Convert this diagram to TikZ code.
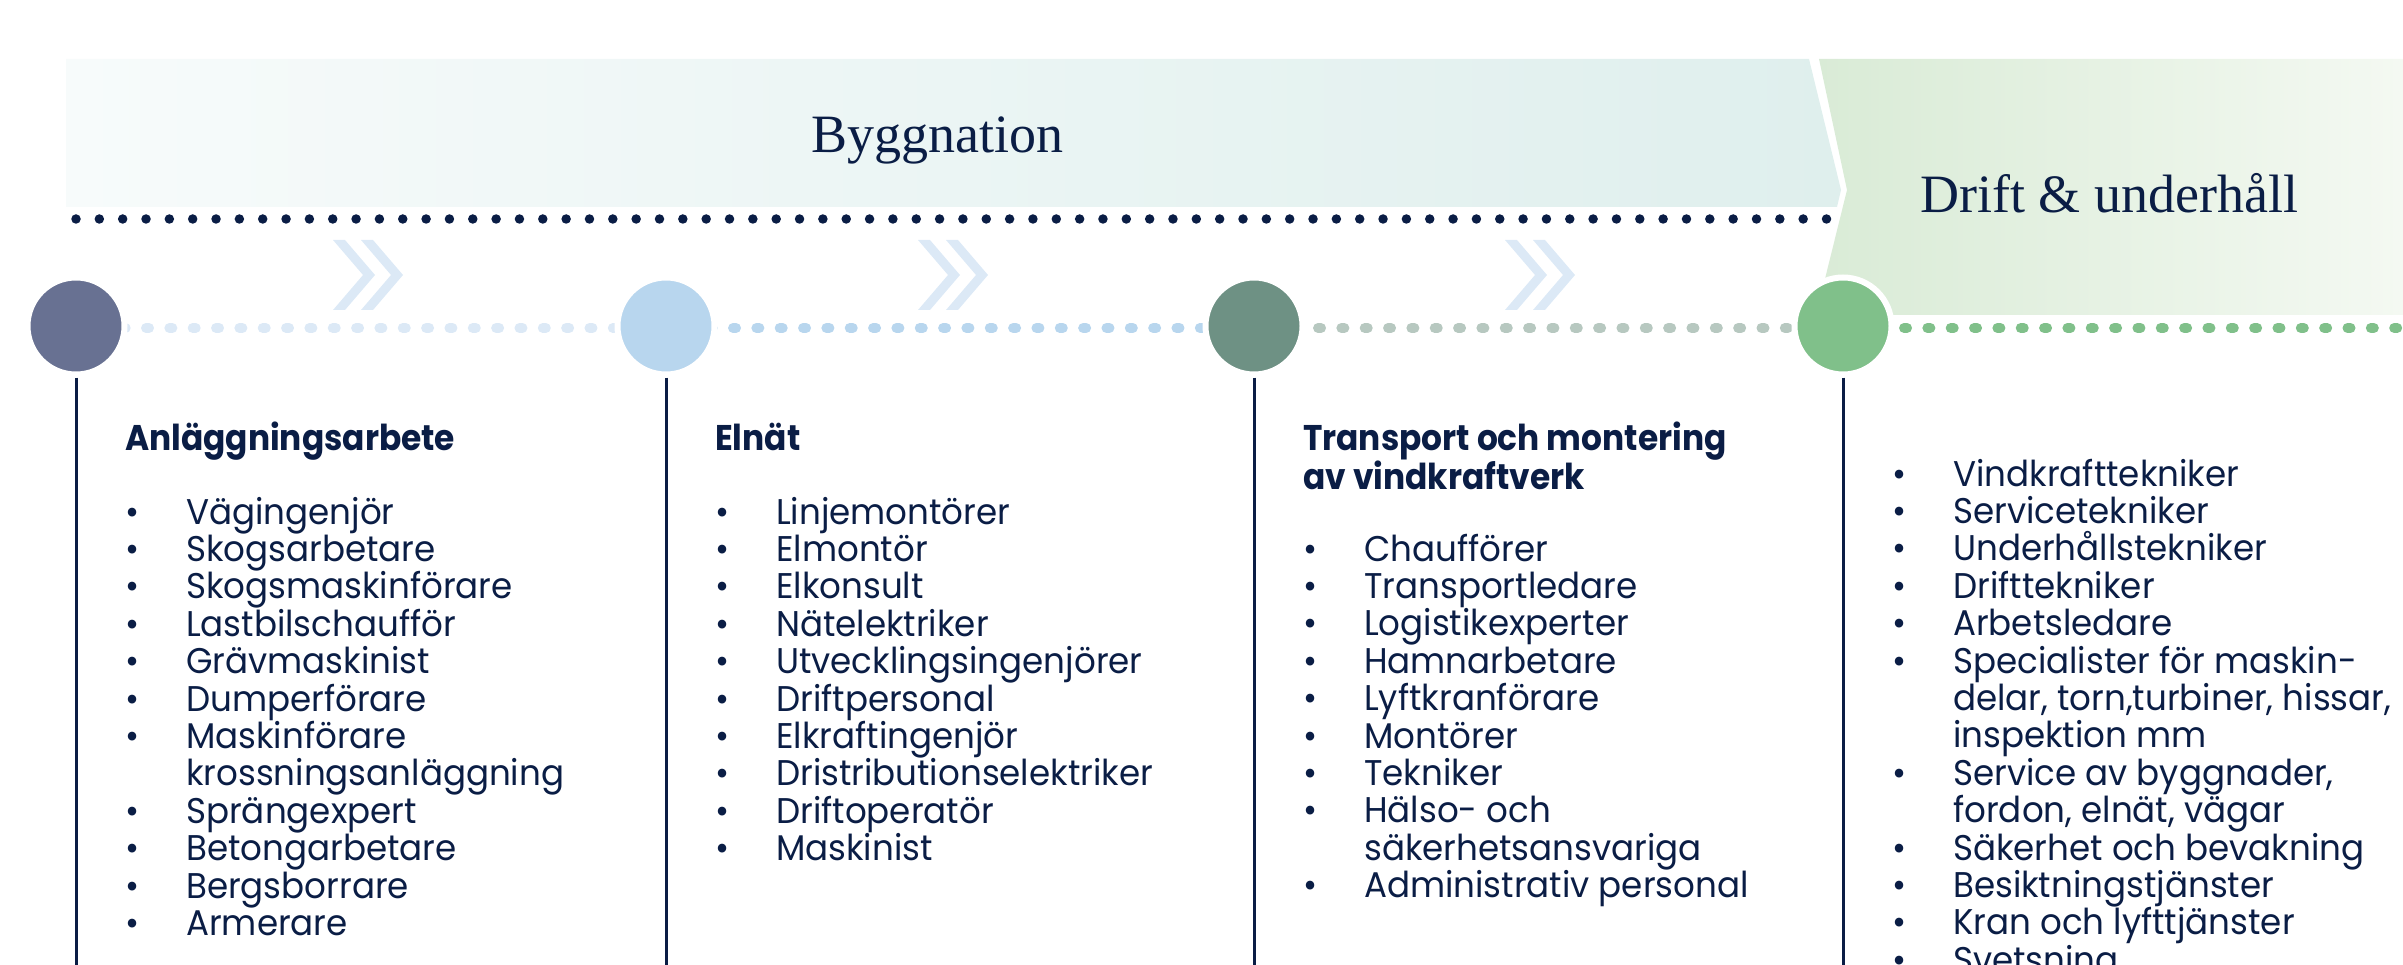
\documentclass[tikz,border=0pt]{standalone}
\usepackage{fontspec}
\setmainfont{Poppins}[FakeStretch=0.955]
\newfontfamily\headfont{Poppins}[FakeStretch=0.92]
\newfontfamily\titlefont{Liberation Serif}
\definecolor{navy}{HTML}{0A1D45}
\definecolor{bygL}{HTML}{F7FBFB}
\definecolor{bygR}{HTML}{DFEFED}
\definecolor{drL}{HTML}{D9EBD6}
\definecolor{drR}{HTML}{F4F9F2}
\definecolor{cA}{HTML}{687192}
\definecolor{cB}{HTML}{B8D6EE}
\definecolor{cC}{HTML}{6E9184}
\definecolor{cD}{HTML}{80C08A}
\definecolor{dA}{HTML}{DCE9F6}
\definecolor{dC}{HTML}{B7C8C0}
\pgfdeclarelayer{bg}
\pgfsetlayers{bg,main}
\newcommand\itm[1]{\makebox[61pt][l]{•}#1\par}
\newcommand\cnt[1]{\hspace*{61pt}#1\par}
\newcommand\colbox[1]{\parbox[t]{560pt}{\fontsize{35.7}{37.4}\selectfont #1}}
\tikzset{
  darkdots/.style={line width=9.5pt, line cap=round, dash pattern=on 0pt off 23.34pt},
  dotline/.style={line width=10pt, line cap=round, dash pattern=on 3pt off 20.34pt, transform canvas={yshift=-2pt}},
  stage/.style={circle, draw=white, line width=6pt, minimum size=97pt, inner sep=0pt},
  vline/.style={draw=navy, line width=3pt},
  chev/.style={fill=dA},
  listtext/.style={anchor=base west, inner sep=0pt, text=navy},
  headtext/.style={anchor=base west, inner sep=0pt, text=navy, font=\headfont\bfseries\fontsize{35.7}{37.4}\selectfont},
  titletext/.style={anchor=base, inner sep=0pt, text=navy, font=\titlefont\fontsize{54}{60}\selectfont}
}
\begin{document}
\begin{tikzpicture}[x=1pt,y=-1pt]
\useasboundingbox (0,0) rectangle (2403,965);
\clip (0,0) rectangle (2403,965);

% stage circles
\node[stage, fill=cA] (c1) at (76,326) {};
\node[stage, fill=cB] (c2) at (666,326) {};
\node[stage, fill=cC] (c3) at (1254,326) {};
\node[stage, fill=cD] (c4) at (1843,326) {};

\coordinate (ds) at (76,219);
\coordinate (de) at (1833,219);
\coordinate (ge) at (2403,326);
\coordinate (b1) at (76,970);
\coordinate (b2) at (666,970);
\coordinate (b3) at (1254,970);
\coordinate (b4) at (1843,970);

\begin{pgfonlayer}{bg}
  % banners
  \shade[left color=bygL, right color=bygR] (66,59) -- (1809,59) -- (1841,190) -- (1837,207) -- (66,207) -- cycle;
  \shade[left color=drL, right color=drR] (1819,59) -- (2403,59) -- (2403,315) -- (1816,315) -- (1847,190) -- cycle;
  % dotted lines
  \draw[darkdots, draw=navy] (ds) -- (de);
  \draw[dotline, draw=dA] (c1.center) -- (c2.center);
  \draw[dotline, draw=cB, dash phase=3pt] (c2.center) -- (c3.center);
  \draw[dotline, draw=dC, dash phase=6pt] (c3.center) -- (c4.center);
  \draw[dotline, draw=cD, dash phase=9pt] (c4.center) -- (ge);
\end{pgfonlayer}

% chevrons
\foreach \x in {333,361,918,946,1505,1533}{
  \fill[chev] (\x,240) -- ++(12,0) -- ++(30,35) -- ++(-30,35) -- ++(-12,0) -- ++(30,-35) -- cycle;
}

% vertical lines
\draw[vline] (c1.south) -- (b1);
\draw[vline] (c2.south) -- (b2);
\draw[vline] (c3.south) -- (b3);
\draw[vline] (c4.south) -- (b4);

% titles
\node[titletext] (t1) at (937,153) {Byggnation};
\node[titletext] (t2) at (2109,213) {Drift \& underhåll};

% headings
\node[headtext] (h1) at (125,450) {Anläggningsarbete};
\node[headtext] (h2) at (715,450) {Elnät};
\node[listtext, font=\headfont\bfseries] (h3) at (1303,450) {\colbox{Transport och montering\par av vindkraftverk\par}};

% lists
\node[listtext] (l1) at (125,524) {\colbox{%
\itm{Vägingenjör}
\itm{Skogsarbetare}
\itm{Skogsmaskinförare}
\itm{Lastbilschaufför}
\itm{Grävmaskinist}
\itm{Dumperförare}
\itm{Maskinförare}
\cnt{krossningsanläggning}
\itm{Sprängexpert}
\itm{Betongarbetare}
\itm{Bergsborrare}
\itm{Armerare}}};

\node[listtext] (l2) at (715,524) {\colbox{%
\itm{Linjemontörer}
\itm{Elmontör}
\itm{Elkonsult}
\itm{Nätelektriker}
\itm{Utvecklingsingenjörer}
\itm{Driftpersonal}
\itm{Elkraftingenjör}
\itm{Dristributionselektriker}
\itm{Driftoperatör}
\itm{Maskinist}}};

\node[listtext] (l3) at (1303,561) {\colbox{%
\itm{Chaufförer}
\itm{Transportledare}
\itm{Logistikexperter}
\itm{Hamnarbetare}
\itm{Lyftkranförare}
\itm{Montörer}
\itm{Tekniker}
\itm{Hälso- och}
\cnt{säkerhetsansvariga}
\itm{Administrativ personal}}};

\node[listtext] (l4) at (1892,486) {\colbox{%
\itm{Vindkrafttekniker}
\itm{Servicetekniker}
\itm{Underhållstekniker}
\itm{Drifttekniker}
\itm{Arbetsledare}
\itm{Specialister för maskin-}
\cnt{delar, torn,turbiner, hissar,}
\cnt{inspektion mm}
\itm{Service av byggnader,}
\cnt{fordon, elnät, vägar}
\itm{Säkerhet och bevakning}
\itm{Besiktningstjänster}
\itm{Kran och lyfttjänster}
\itm{Svetsning}}};
\end{tikzpicture}
\end{document}
